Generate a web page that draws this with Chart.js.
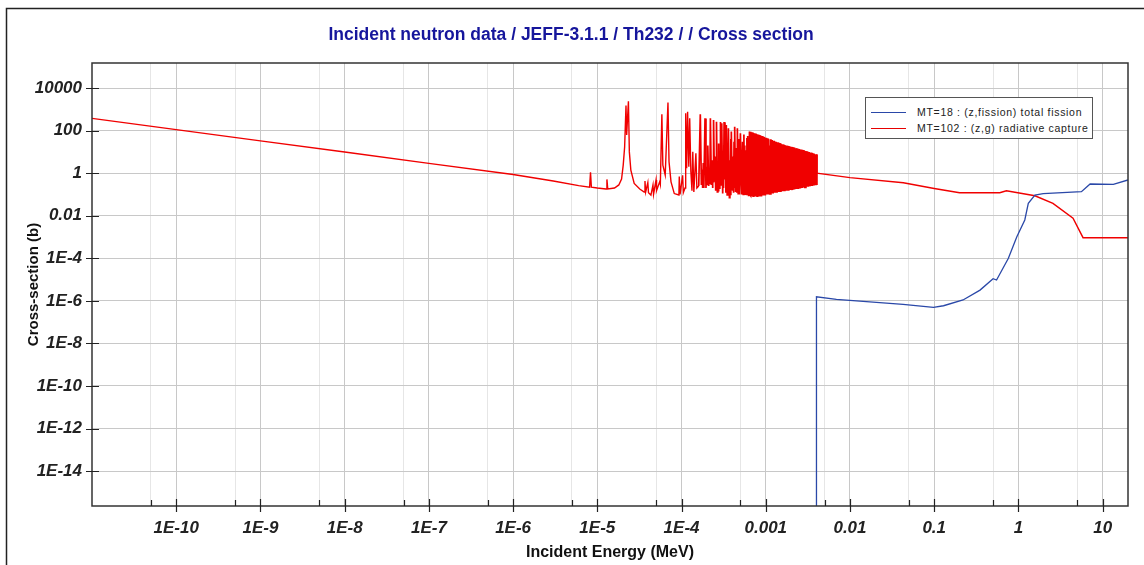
<!DOCTYPE html>
<html>
<head>
<meta charset="utf-8">
<script src="https://cdn.jsdelivr.net/npm/chart.js@4.4.1/dist/chart.umd.min.js"></script>
<style>
  html, body { margin: 0; padding: 0; background: #fff; }
  #wrap { position: relative; width: 1144px; height: 565px; }
  #legend { position: absolute; left: 865px; top: 97px; width: 226px; height: 40px; border: 1px solid #555; background: #fff;
            font: 10.5px "Liberation Sans", Arial, sans-serif; letter-spacing: 0.7px; color: #222; }
  .row { position: absolute; left: 0; width: 226px; height: 14px; line-height: 14px; white-space: nowrap; }
  .swatch { position: absolute; left: 5px; top: 7px; width: 35px; height: 0; border-top: 1.3px solid; }
  .txt { position: absolute; left: 51px; top: 0; }
</style>
</head>
<body>
<div id="wrap">
  <canvas id="chart" width="1144" height="565"></canvas>
  <div id="legend">
    <div class="row" style="top:7px"><span class="swatch" style="border-color:#2a48a8"></span><span class="txt">MT=18 : (z,fission) total fission</span></div>
    <div class="row" style="top:23px"><span class="swatch" style="border-color:#e60000"></span><span class="txt">MT=102 : (z,g) radiative capture</span></div>
  </div>
</div>
<script>
const chartTitle = 'Incident neutron data / JEFF-3.1.1 / Th232 / / Cross section';

// axis ticks
const xMajorValues = [1e-10, 1e-9, 1e-8, 1e-7, 1e-6, 1e-5, 1e-4, 1e-3, 1e-2, 0.1, 1, 10];
const xMajorLabels = ['1E-10', '1E-9', '1E-8', '1E-7', '1E-6', '1E-5', '1E-4', '0.001', '0.01', '0.1', '1', '10'];
const xMinorValues = [5e-11, 5e-10, 5e-9, 5e-8, 5e-7, 5e-6, 5e-5, 5e-4, 5e-3, 0.05, 0.5, 5];
const yMajorValues = [1e4, 1e2, 1, 1e-2, 1e-4, 1e-6, 1e-8, 1e-10, 1e-12, 1e-14];
const yMajorLabels = ['10000', '100', '1', '0.01', '1E-4', '1E-6', '1E-8', '1E-10', '1E-12', '1E-14'];

// MT=18 fission (MeV, barns)
const fissionE  = [4.0e-3, 4.0e-3, 6.9e-3, 0.0427, 0.098, 0.129, 0.22, 0.35, 0.5, 0.55, 0.76, 0.955, 1.19, 1.31, 1.57, 1.97, 5.6, 7.1, 13.4, 20];
const fissionXS = [1e-17, 1.55e-6, 1.17e-6, 6.9e-7, 5.0e-7, 5.9e-7, 1.1e-6, 3.2e-6, 1.1e-5, 9.5e-6, 1e-4, 1e-3, 6.3e-3, 0.038, 0.093, 0.11, 0.135, 0.31, 0.30, 0.48];

// MT=102 capture: thermal range and first resonances
const captureLowE = [1e-11, 1e-10, 1e-9, 1e-8, 1e-7, 1e-6, 3e-6, 6e-6, 8.1e-6, 8.3e-6, 8.5e-6, 1.0e-5, 1.27e-5, 1.30e-5, 1.33e-5,
  1.6e-5, 1.8e-5, 1.94e-5, 2.03e-5, 2.11e-5, 2.19e-5, 2.23e-5, 2.34e-5, 2.40e-5, 2.50e-5, 2.74e-5, 3.19e-5, 3.6e-5, 3.68e-5, 3.75e-5,
  3.98e-5, 4.05e-5, 4.33e-5, 4.58e-5, 4.65e-5, 4.98e-5, 5.05e-5, 5.51e-5, 5.6e-5, 5.84e-5, 6.0e-5, 6.4e-5, 6.9e-5, 7.1e-5, 7.5e-5,
  8.2e-5, 9.3e-5, 9.4e-5, 9.6e-5, 1.03e-4, 1.05e-4, 1.10e-4, 1.12e-4, 1.15e-4, 1.18e-4, 1.22e-4, 1.25e-4, 1.29e-4, 1.33e-4, 1.36e-4,
  1.40e-4, 1.48e-4, 1.52e-4];
const captureLowXS = [377, 111, 33, 9.8, 2.9, 0.86, 0.43, 0.26, 0.22, 1.1, 0.22, 0.2, 0.18, 0.51, 0.18,
  0.2, 0.28, 0.53, 2.4, 17, 1500, 62, 2400, 10, 1.4, 0.33, 0.18, 0.13, 0.43, 0.13,
  0.36, 0.12, 0.094, 0.28, 0.1, 0.48, 0.15, 0.4, 0.3, 580, 2.4, 0.82, 2100, 3.5, 0.39,
  0.11, 0.094, 0.7, 0.1, 0.8, 0.12, 0.2, 650, 1.7, 770, 2, 375, 1.2, 0.15, 10,
  0.13, 8.6, 0.2];

// MT=102 capture: resolved resonances 160 - 650 eV
const captureResE = [1.60e-4, 1.67e-4, 1.72e-4, 1.76e-4, 1.78e-4, 1.81e-4, 1.84e-4, 1.90e-4, 1.95e-4, 2.00e-4,
  2.02e-4, 2.05e-4, 2.10e-4, 2.15e-4, 2.17e-4, 2.20e-4, 2.26e-4, 2.30e-4, 2.33e-4, 2.36e-4,
  2.38e-4, 2.40e-4, 2.46e-4, 2.50e-4, 2.53e-4, 2.56e-4, 2.58e-4, 2.60e-4, 2.66e-4, 2.70e-4,
  2.73e-4, 2.76e-4, 2.80e-4, 2.85e-4, 2.87e-4, 2.90e-4, 2.95e-4, 3.00e-4, 3.08e-4, 3.12e-4,
  3.15e-4, 3.20e-4, 3.28e-4, 3.32e-4, 3.36e-4, 3.40e-4, 3.48e-4, 3.52e-4, 3.55e-4, 3.60e-4,
  3.70e-4, 3.75e-4, 3.80e-4, 3.85e-4, 3.88e-4, 3.90e-4, 3.98e-4, 4.03e-4, 4.06e-4, 4.10e-4,
  4.15e-4, 4.20e-4, 4.25e-4, 4.30e-4, 4.38e-4, 4.45e-4, 4.50e-4, 4.55e-4, 4.57e-4, 4.60e-4,
  4.70e-4, 4.78e-4, 4.82e-4, 4.85e-4, 4.90e-4, 5.00e-4, 5.10e-4, 5.15e-4, 5.20e-4, 5.30e-4,
  5.40e-4, 5.50e-4, 5.58e-4, 5.62e-4, 5.65e-4, 5.80e-4, 5.90e-4, 5.97e-4, 6.03e-4, 6.10e-4,
  6.25e-4, 6.32e-4, 6.36e-4, 6.40e-4, 6.50e-4];
const captureResXS = [0.25, 580, 0.28, 1.5, 0.2, 3, 0.2, 375, 0.2, 2,
  0.3, 20, 0.25, 1.2, 0.3, 375, 0.28, 4, 0.2, 1.5,
  0.4, 313, 0.4, 6, 0.15, 2, 0.5, 260, 0.13, 3,
  0.15, 25, 0.2, 1.5, 0.3, 255, 0.28, 220, 0.11, 2.5,
  0.2, 250, 0.5, 8, 0.12, 182, 0.094, 3, 0.15, 130,
  0.07, 4, 0.1, 40, 0.2, 90, 0.3, 6, 0.15, 5,
  0.12, 30, 0.2, 150, 0.13, 15, 0.12, 3, 0.3, 130,
  0.11, 40, 0.15, 8, 0.1, 75, 0.5, 4, 0.1, 30,
  0.1, 66, 0.2, 20, 0.094, 12, 0.1, 45, 0.12, 55,
  0.09, 18, 0.1, 90, 0.1];

// MT=102 capture: dense resonance forest up to 4 keV (peak top / valley floor)
const denseE = [6.60e-4, 6.78e-4, 6.96e-4, 7.15e-4, 7.34e-4, 7.54e-4, 7.74e-4, 7.95e-4, 8.16e-4, 8.38e-4,
  8.61e-4, 8.84e-4, 9.08e-4, 9.32e-4, 9.57e-4, 9.83e-4, 1.010e-3, 1.037e-3, 1.065e-3, 1.093e-3,
  1.123e-3, 1.153e-3, 1.184e-3, 1.216e-3, 1.249e-3, 1.282e-3, 1.317e-3, 1.352e-3, 1.389e-3, 1.426e-3,
  1.465e-3, 1.504e-3, 1.545e-3, 1.586e-3, 1.629e-3, 1.673e-3, 1.718e-3, 1.764e-3, 1.812e-3, 1.861e-3,
  1.911e-3, 1.962e-3, 2.015e-3, 2.070e-3, 2.125e-3, 2.183e-3, 2.242e-3, 2.302e-3, 2.364e-3, 2.428e-3,
  2.493e-3, 2.560e-3, 2.629e-3, 2.700e-3, 2.773e-3, 2.848e-3, 2.924e-3, 3.003e-3, 3.084e-3, 3.167e-3,
  3.253e-3, 3.340e-3, 3.430e-3, 3.523e-3, 3.618e-3, 3.715e-3, 3.815e-3, 3.918e-3, 4.024e-3];
const denseTop = [89, 50, 83, 78, 30, 74, 70, 45, 66, 62,
  60, 25, 56, 52, 50, 35, 46, 44, 42, 20,
  39, 37, 36, 26, 33, 31, 30, 14, 28, 27,
  26, 25, 18, 23, 22, 21, 12, 20, 19.5, 19,
  18.5, 11, 17.5, 17, 16.5, 16, 10, 15, 14.5, 14,
  13.7, 9, 13, 12.5, 12.2, 11.8, 8, 11, 10.6, 10.2,
  9.9, 7, 9.3, 9, 8.7, 8.4, 6, 7.8, 7.5];
const denseLow = [0.09, 0.08, 0.09, 0.075, 0.09, 0.08, 0.09, 0.075, 0.09, 0.08,
  0.09, 0.08, 0.1, 0.09, 0.1, 0.09, 0.1, 0.1, 0.11, 0.1,
  0.11, 0.11, 0.12, 0.11, 0.12, 0.12, 0.13, 0.12, 0.13, 0.13,
  0.14, 0.13, 0.14, 0.14, 0.15, 0.14, 0.15, 0.15, 0.16, 0.15,
  0.16, 0.16, 0.17, 0.16, 0.17, 0.17, 0.18, 0.18, 0.19, 0.18,
  0.19, 0.19, 0.2, 0.2, 0.21, 0.21, 0.22, 0.22, 0.23, 0.23,
  0.24, 0.24, 0.25, 0.25, 0.26, 0.26, 0.27, 0.27, 0.28];

// MT=102 capture: unresolved / fast range
const captureHighE  = [4.05e-3, 0.01, 0.043, 0.1, 0.2, 0.6, 0.72, 1.57, 2.57, 4.45, 5.85, 20];
const captureHighXS = [1.0, 0.62, 0.355, 0.19, 0.12, 0.12, 0.148, 0.087, 0.038, 0.0076, 9.3e-4, 9.3e-4];

const FONT = '"Liberation Sans", Arial, sans-serif';

const fissionPts = fissionE.map((e, i) => ({ x: e, y: fissionXS[i] }));
const capturePts = captureLowE.map((e, i) => ({ x: e, y: captureLowXS[i] }));
captureResE.forEach((e, i) => capturePts.push({ x: e, y: captureResXS[i] }));
denseE.forEach((e, i) => {
  capturePts.push({ x: e, y: denseLow[i] });
  capturePts.push({ x: e, y: denseTop[i] });
});
captureHighE.forEach((e, i) => capturePts.push({ x: e, y: captureHighXS[i] }));

// resonance region drawn a bit heavier so the forest fills in like the original
function captureWidth(ctx) {
  const x0 = ctx.p0.parsed.x, x1 = ctx.p1.parsed.x;
  if (x0 >= denseE[0] && x1 <= denseE[denseE.length - 1]) return 2.2;
  if (x0 >= captureResE[0] && x1 <= denseE[0]) return 1.7;
  return 1.4;
}

function labelFor(values, labels, v) {
  const i = values.findIndex(t => Math.abs(t - v) / t < 1e-6);
  return i >= 0 ? labels[i] : '';
}

const chartDecor = {
  id: 'chartDecor',
  beforeDraw(chart) {
    const c = chart.ctx;
    c.save();
    c.fillStyle = '#fff';
    c.fillRect(0, 0, chart.width, chart.height);
    c.strokeStyle = '#222';
    c.lineWidth = 1.5;
    c.beginPath();
    c.moveTo(6.5, chart.height);
    c.lineTo(6.5, 8.5);
    c.lineTo(chart.width, 8.5);
    c.stroke();
    c.fillStyle = '#16169c';
    c.font = 'bold 17.5px ' + FONT;
    c.textAlign = 'center';
    c.textBaseline = 'middle';
    c.fillText(chartTitle, 571, 35);
    c.restore();
  },
  afterDraw(chart) {
    const { ctx, chartArea: a, scales: { x, y } } = chart;
    ctx.save();
    ctx.strokeStyle = '#333';
    ctx.lineWidth = 1.5;
    ctx.strokeRect(a.left, a.top, a.right - a.left, a.bottom - a.top);
    ctx.strokeStyle = '#222';
    ctx.lineWidth = 1.2;
    ctx.beginPath();
    xMajorValues.forEach(v => {
      const px = Math.round(x.getPixelForValue(v)) + 0.5;
      ctx.moveTo(px, a.bottom - 7); ctx.lineTo(px, a.bottom + 6);
    });
    xMinorValues.forEach(v => {
      const px = Math.round(x.getPixelForValue(v)) + 0.5;
      ctx.moveTo(px, a.bottom - 6); ctx.lineTo(px, a.bottom);
    });
    yMajorValues.forEach(v => {
      const py = Math.round(y.getPixelForValue(v)) + 0.5;
      ctx.moveTo(a.left - 6, py); ctx.lineTo(a.left + 7, py);
    });
    ctx.stroke();
    ctx.restore();
  }
};

new Chart(document.getElementById('chart'), {
  type: 'line',
  data: {
    datasets: [
      { label: 'MT=18 : (z,fission) total fission', data: fissionPts, borderColor: '#2a48a8', borderWidth: 1.3, pointRadius: 0, tension: 0 },
      { label: 'MT=102 : (z,g) radiative capture', data: capturePts, borderColor: '#f00000', borderWidth: 1.4, pointRadius: 0, tension: 0,
        segment: { borderWidth: captureWidth } }
    ]
  },
  options: {
    responsive: false,
    animation: false,
    devicePixelRatio: 1,
    layout: { padding: { left: 0, right: 16, top: 63, bottom: 0 } },
    plugins: {
      legend: { display: false },
      tooltip: { enabled: false },
      title: { display: false }
    },
    scales: {
      x: {
        type: 'logarithmic',
        min: 1e-11,
        max: 20,
        afterBuildTicks: s => {
          s.ticks = xMajorValues.map(v => ({ value: v, major: true }))
            .concat(xMinorValues.map(v => ({ value: v, major: false })));
        },
        afterFit: s => { s.height = 59; },
        grid: { color: c => (c.tick && c.tick.major ? '#c8c8c8' : '#e6e6e6'), lineWidth: 1, drawTicks: false },
        border: { display: false },
        ticks: {
          autoSkip: false, maxRotation: 0, padding: 12, color: '#222',
          font: { family: FONT, size: 17, weight: 'bold', style: 'italic' },
          callback: v => labelFor(xMajorValues, xMajorLabels, v)
        },
        title: {
          display: true, text: 'Incident Energy (MeV)', color: '#111',
          font: { family: FONT, size: 16, weight: 'bold' },
          padding: { top: 0, bottom: 2.4 }
        }
      },
      y: {
        type: 'logarithmic',
        min: 2.3e-16,
        max: 1.5e5,
        afterBuildTicks: s => { s.ticks = yMajorValues.map(v => ({ value: v, major: true })); },
        afterFit: s => { s.width = 92; },
        grid: { color: '#c8c8c8', lineWidth: 1, drawTicks: false },
        border: { display: false },
        ticks: {
          autoSkip: false, padding: 10, color: '#222',
          font: { family: FONT, size: 17, weight: 'bold', style: 'italic' },
          callback: v => labelFor(yMajorValues, yMajorLabels, v)
        },
        title: {
          display: true, text: 'Cross-section (b)', color: '#111',
          font: { family: FONT, size: 15, weight: 'bold' },
          padding: { top: 25, bottom: 0 }
        }
      }
    }
  },
  plugins: [chartDecor]
});
</script>
</body>
</html>
